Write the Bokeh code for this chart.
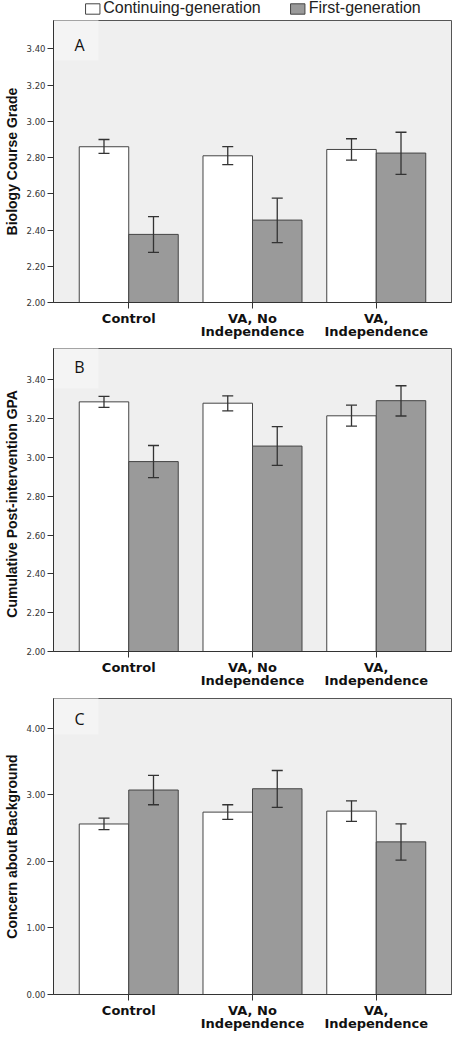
from bokeh.plotting import figure
from bokeh.layouts import column
from bokeh.models import (ColumnDataSource, FactorRange, Range1d, Whisker, TeeHead, FixedTicker,
                          NumeralTickFormatter, Legend, LegendItem, Label, BoxAnnotation)
from bokeh.transform import dodge
from bokeh.embed import file_html
from bokeh.resources import INLINE

categories = ["Control", "VA, No\nIndependence", "VA,\nIndependence"]
series = ["Continuing-generation", "First-generation"]

grade_cont = [2.860, 2.810, 2.845]
grade_cont_lo = [2.823, 2.761, 2.786]
grade_cont_hi = [2.900, 2.861, 2.904]
grade_first = [2.376, 2.455, 2.825]
grade_first_lo = [2.277, 2.331, 2.707]
grade_first_hi = [2.474, 2.576, 2.940]

gpa_cont = [3.287, 3.280, 3.215]
gpa_cont_lo = [3.259, 3.240, 3.162]
gpa_cont_hi = [3.315, 3.318, 3.270]
gpa_first = [2.979, 3.059, 3.293]
gpa_first_lo = [2.896, 2.959, 3.214]
gpa_first_hi = [3.062, 3.159, 3.370]

concern_cont = [2.562, 2.740, 2.755]
concern_cont_lo = [2.476, 2.630, 2.601]
concern_cont_hi = [2.649, 2.851, 2.909]
concern_first = [3.072, 3.091, 2.293]
concern_first_lo = [2.851, 2.812, 2.019]
concern_first_hi = [3.293, 3.365, 2.562]

ticks_ab = [2.00, 2.20, 2.40, 2.60, 2.80, 3.00, 3.20, 3.40]
ticks_c = [0.00, 1.00, 2.00, 3.00, 4.00]

BG = "#efefef"
DARK = "#333333"
EDGE = "#444444"
GREY = "#9a9a9a"
W = 453


def panel(letter, ylabel, cont, cont_lo, cont_hi, first, first_lo, first_hi,
          ymin, ymax, ticks, height, top, bottom, letter_dy):
    p = figure(width=W, height=height, output_backend="svg", toolbar_location=None,
               x_range=FactorRange(factors=categories, range_padding=0.108,
                                   range_padding_units="absolute"),
               y_range=Range1d(ymin, ymax),
               min_border_left=50, min_border_right=2,
               min_border_top=top, min_border_bottom=bottom)
    p.background_fill_color = BG
    p.border_fill_color = "white"
    p.outline_line_color = "#555555"
    p.xgrid.grid_line_color = None
    p.ygrid.grid_line_color = None

    src_c = ColumnDataSource(dict(cat=categories, v=cont, lo=cont_lo, hi=cont_hi))
    src_f = ColumnDataSource(dict(cat=categories, v=first, lo=first_lo, hi=first_hi))
    xc = dodge("cat", -0.2, range=p.x_range)
    xf = dodge("cat", 0.2, range=p.x_range)
    p.vbar(x=xc, top="v", bottom=ymin, width=0.4, source=src_c,
           fill_color="white", line_color=EDGE, line_width=1)
    p.vbar(x=xf, top="v", bottom=ymin, width=0.4, source=src_f,
           fill_color=GREY, line_color=EDGE, line_width=1)
    for src, xx in ((src_c, xc), (src_f, xf)):
        w = Whisker(source=src, base=xx, upper="hi", lower="lo", level="overlay",
                    line_color=DARK, line_width=1.3,
                    upper_head=TeeHead(size=11, line_color=DARK, line_width=1.3),
                    lower_head=TeeHead(size=11, line_color=DARK, line_width=1.3))
        p.add_layout(w)

    fh = height - top - bottom
    p.add_layout(BoxAnnotation(left=0, right=45, top=fh, bottom=fh - 44,
                               left_units="screen", right_units="screen",
                               top_units="screen", bottom_units="screen",
                               fill_color="#f4f4f4", fill_alpha=1, line_color=None,
                               level="underlay"))
    p.add_layout(Label(x=26, y=fh - letter_dy, x_units="screen", y_units="screen",
                       text=letter, text_font="Open Sans", text_font_size="16px",
                       text_color="#111111", text_align="center", text_baseline="middle"))

    xa = p.xaxis[0]
    xa.major_label_text_font = "DejaVu Sans"
    xa.major_label_text_font_style = "bold"
    xa.major_label_text_font_size = "13px"
    xa.major_label_text_color = "#111111"
    xa.major_label_text_line_height = 0.9
    xa.major_label_standoff = 2
    xa.major_tick_out = 6
    xa.major_tick_in = 0
    xa.major_tick_line_color = DARK
    xa.axis_line_color = DARK

    ya = p.yaxis[0]
    ya.ticker = FixedTicker(ticks=ticks)
    ya.formatter = NumeralTickFormatter(format="0.00")
    ya.major_label_text_font = "DejaVu Sans"
    ya.major_label_text_font_size = "8.5px"
    ya.major_label_text_color = "#333333"
    ya.major_label_standoff = 2
    ya.major_tick_out = 6
    ya.major_tick_in = 0
    ya.minor_tick_line_color = None
    ya.major_tick_line_color = DARK
    ya.axis_line_color = DARK
    ya.axis_label = ylabel
    ya.axis_label_text_font = "Liberation Sans"
    ya.axis_label_text_font_style = "bold"
    ya.axis_label_text_font_size = "14px"
    ya.axis_label_text_color = "#111111"
    ya.axis_label_standoff = 4
    return p


# legend strip (its proxy renderers sit outside the visible range)
pl = figure(width=W, height=16, output_backend="svg", toolbar_location=None,
            x_range=Range1d(0, 1), y_range=Range1d(0, 1),
            x_axis_location=None, y_axis_location=None,
            min_border_left=50, min_border_right=2, min_border_top=0, min_border_bottom=0)
pl.outline_line_color = None
pl.background_fill_color = "white"
pl.xgrid.grid_line_color = None
pl.ygrid.grid_line_color = None
proxy = ColumnDataSource(dict(x=[-10], top=[-10]))
lr1 = pl.vbar(x="x", top="top", width=0.1, source=proxy, fill_color="white", line_color=EDGE)
lr2 = pl.vbar(x="x", top="top", width=0.1, source=proxy, fill_color=GREY, line_color=EDGE)
lg = Legend(items=[LegendItem(label=series[0], renderers=[lr1], index=0),
                   LegendItem(label=series[1], renderers=[lr2], index=0)],
            orientation="horizontal", location="center",
            label_text_font="Liberation Sans", label_text_font_size="16px",
            label_text_color="#222222",
            glyph_width=18, glyph_height=13, label_height=13,
            label_standoff=2, spacing=28, padding=0, margin=0,
            border_line_color=None, background_fill_alpha=0)
pl.add_layout(lg, "center")

pa = panel("A", "Biology Course Grade", grade_cont, grade_cont_lo, grade_cont_hi,
           grade_first, grade_first_lo, grade_first_hi,
           2.0, 3.557, ticks_ab, 326, 4, 36, 28)
pb = panel("B", "Cumulative  Post-intervention  GPA", gpa_cont, gpa_cont_lo, gpa_cont_hi,
           gpa_first, gpa_first_lo, gpa_first_hi,
           2.0, 3.562, ticks_ab, 349, 6, 36, 22)
pc = panel("C", "Concern about Background", concern_cont, concern_cont_lo, concern_cont_hi,
           concern_first, concern_first_lo, concern_first_hi,
           0.0, 4.447, ticks_c, 343, 7, 32, 28)

layout = column(pl, pa, pb, pc, spacing=0)
open("out.html", "w").write(file_html(layout, INLINE))
